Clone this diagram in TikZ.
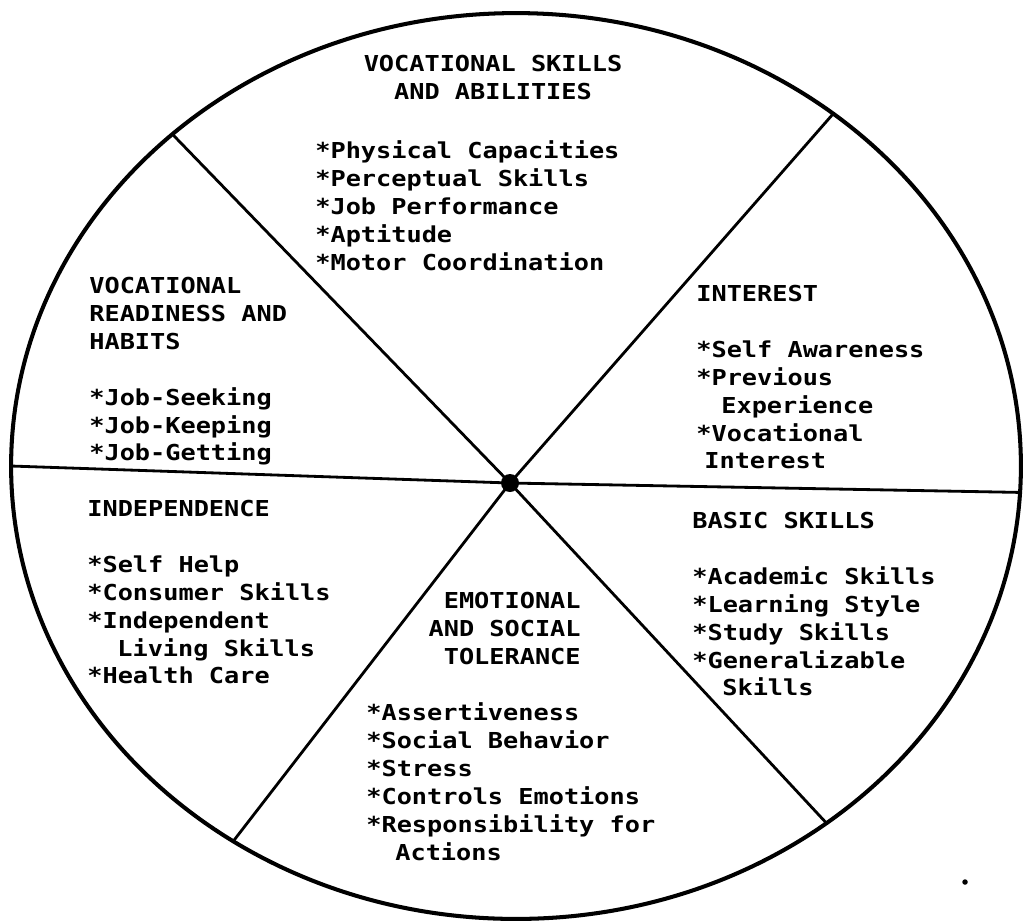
\documentclass[tikz,border=0pt]{standalone}
\usepackage{fontspec}
\usetikzlibrary{shapes.geometric}
\newfontfamily\typefont[FakeStretch=1.15]{DejaVu Sans Mono}
\begin{document}
\begin{tikzpicture}[x=0.02cm,y=-0.02cm,
  rimstyle/.style={ellipse, draw, line width=2.3pt, inner sep=0pt, outer sep=0pt,
                   minimum width=20.2cm, minimum height=18.12cm},
  spoke/.style={line width=1.6pt},
  hubstyle/.style={circle, fill, inner sep=0pt, minimum size=0.36cm},
  txt/.style={inner sep=0pt, align=left,
              font=\typefont\bfseries\fontsize{12.5}{15.9}\selectfont},
]
\useasboundingbox (0,0) rectangle (1023,921);
\fill[white] (0,0) rectangle (1023,921);

% rim and hub
\node[rimstyle] (rim) at (516,466) {};
\node[hubstyle] (hub) at (510,483) {};

% spokes
\draw[spoke] (hub.center) -- (rim.180);
\draw[spoke] (hub.center) -- (rim.357);
\draw[spoke] (hub.center) -- (rim.136);
\draw[spoke] (hub.center) -- (rim.48);
\draw[spoke] (hub.center) -- (rim.233);
\draw[spoke] (hub.center) -- (rim.311);

% top sector
\node[txt, align=center, anchor=north] (vsaH) at (493,51.4)
  {\strut VOCATIONAL SKILLS\\AND ABILITIES};
\node[txt, anchor=north west] (vsaL) at (315,138.4)
  {\strut*Physical Capacities\\*Perceptual Skills\\*Job Performance\\*Aptitude\\*Motor Coordination};

% upper left sector
\node[txt, anchor=north west] (vrh) at (89,273.4)
  {\strut VOCATIONAL\\READINESS AND\\HABITS\\[15.9pt]*Job-Seeking\\*Job-Keeping\\*Job-Getting};

% upper right sector
\node[txt, anchor=north west] (int) at (696,281.4)
  {\strut INTEREST\\[15.9pt]*Self Awareness\\*Previous\\\hspace*{0.5cm}Experience\\*Vocational\\\hspace*{0.16cm}Interest};

% lower left sector
\node[txt, anchor=north west] (ind) at (87,496.4)
  {\strut INDEPENDENCE\\[15.9pt]*Self Help\\*Consumer Skills\\*Independent\\\hspace*{0.6cm}Living Skills\\*Health Care};

% bottom sector
\node[txt, align=right, anchor=north east] (emoH) at (581,588.4)
  {\strut EMOTIONAL\\AND SOCIAL\\TOLERANCE};
\node[txt, anchor=north west] (emoL) at (366,700.4)
  {\strut*Assertiveness\\*Social Behavior\\*Stress\\*Controls Emotions\\*Responsibility for\\\hspace*{0.58cm}Actions};

% lower right sector
\node[txt, anchor=north west] (bas) at (692,508.4)
  {\strut BASIC SKILLS\\[15.9pt]*Academic Skills\\*Learning Style\\*Study Skills\\*Generalizable\\\hspace*{0.6cm}Skills};

% stray speck
\node[circle, fill, inner sep=0pt, minimum size=0.11cm] (speck) at (965,882) {};
\end{tikzpicture}
\end{document}
